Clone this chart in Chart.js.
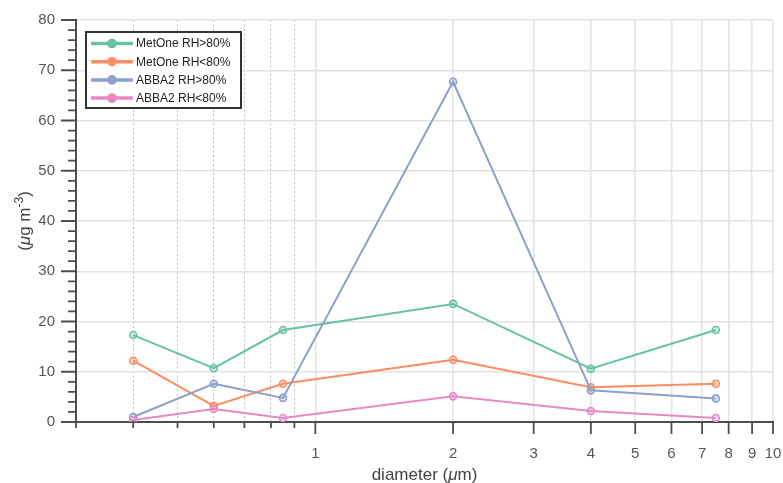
<!DOCTYPE html>
<html>
<head>
<meta charset="utf-8">
<script src="https://cdn.jsdelivr.net/npm/chart.js@4.4.1/dist/chart.umd.min.js"></script>
<style>
  html, body { margin: 0; padding: 0; background: #fff; }
</style>
</head>
<body>
<canvas id="myChart" width="783" height="483"></canvas>
<script>
// bin centres (um) and mass concentrations (ug m-3)
const diameters = [0.4, 0.6, 0.85, 2, 4, 7.5];
const seriesNames = ["MetOne RH>80%", "MetOne RH<80%", "ABBA2 RH>80%", "ABBA2 RH<80%"];
const metoneWet = [17.3, 10.7, 18.3, 23.5, 10.6, 18.3];
const metoneDry = [12.2, 3.2, 7.6, 12.4, 6.9, 7.6];
const abbaWet = [1.0, 7.6, 4.8, 67.7, 6.3, 4.7];
const abbaDry = [0.4, 2.6, 0.8, 5.1, 2.2, 0.8];
const colors = ["#66c2a5", "#fc8d62", "#8da0cb", "#e78ac3"];
const fills = ["rgba(102,194,165,0.3)", "rgba(252,141,98,0.3)", "rgba(141,160,203,0.3)", "rgba(231,138,195,0.3)"];

const xTicks = [0.3, 0.4, 0.5, 0.6, 0.7, 0.8, 0.9, 1, 2, 3, 4, 5, 6, 7, 8, 9, 10];
const yTicks = [0, 10, 20, 30, 40, 50, 60, 70, 80];
const yMinorStep = 2;

const FONT = "'Liberation Sans', Arial, Helvetica, sans-serif";
const AXIS = "#4d4d4d";

const allSeries = [metoneWet, metoneDry, abbaWet, abbaDry];

var datasets = [];
allSeries.forEach((vals, i) => {
  datasets.push({
    label: seriesNames[i],
    data: vals.map((v, j) => ({ x: diameters[j], y: v })),
    borderColor: colors[i],
    backgroundColor: fills[i],
    borderWidth: 2,
    pointRadius: 3.5,
    pointBorderWidth: 1.6,
    pointBackgroundColor: fills[i],
    pointBorderColor: colors[i],
    tension: 0,
    order: allSeries.length - 1 - i,
  });
});

// tick marks, axis titles and the boxed legend
const decorations = {
  id: "decorations",
  afterDraw(chart) {
    const ctx = chart.ctx;
    const a = chart.chartArea;
    const x = chart.scales.x;
    const y = chart.scales.y;
    ctx.save();

    // tick marks
    ctx.strokeStyle = AXIS;
    ctx.lineWidth = 1.8;
    ctx.beginPath();
    xTicks.forEach((v) => {
      const px = x.getPixelForValue(v);
      const len = v >= 1 ? 12 : 6;
      ctx.moveTo(px, a.bottom);
      ctx.lineTo(px, a.bottom + len);
    });
    for (let v = y.min; v <= y.max; v += yMinorStep) {
      const py = y.getPixelForValue(v);
      const len = yTicks.includes(v) ? 15 : 8;
      ctx.moveTo(a.left, py);
      ctx.lineTo(a.left - len, py);
    }
    ctx.stroke();

    // x title
    ctx.fillStyle = "#444";
    ctx.textBaseline = "alphabetic";
    ctx.textAlign = "left";
    const normal = "17px " + FONT;
    const italic = "italic 17px " + FONT;
    const parts = [["diameter (", normal], ["\u03bc", italic], ["m)", normal]];
    let w = 0;
    parts.forEach((p) => { ctx.font = p[1]; w += ctx.measureText(p[0]).width; });
    let cx = (a.left + a.right) / 2 - w / 2;
    parts.forEach((p) => {
      ctx.font = p[1];
      ctx.fillText(p[0], cx, 480);
      cx += ctx.measureText(p[0]).width;
    });

    // y title, rotated, with superscript exponent
    ctx.save();
    ctx.translate(30, (a.top + a.bottom) / 2);
    ctx.rotate(-Math.PI / 2);
    const yparts = [["(", normal, 0], ["\u03bc", italic, 0], ["g m", normal, 0],
                    ["-3", "12px " + FONT, -7], [")", normal, 0]];
    w = 0;
    yparts.forEach((p) => { ctx.font = p[1]; w += ctx.measureText(p[0]).width; });
    cx = -w / 2;
    yparts.forEach((p) => {
      ctx.font = p[1];
      ctx.fillText(p[0], cx, p[2]);
      cx += ctx.measureText(p[0]).width;
    });
    ctx.restore();

    // legend box
    const lx = 86, ly = 32, lw = 155, lh = 76;
    ctx.fillStyle = "#fff";
    ctx.fillRect(lx, ly, lw, lh);
    ctx.strokeStyle = "#333";
    ctx.lineWidth = 2;
    ctx.strokeRect(lx, ly, lw, lh);
    ctx.font = "12px " + FONT;
    ctx.textBaseline = "middle";
    seriesNames.forEach((name, i) => {
      const ry = 43.5 + i * 18.2;
      ctx.strokeStyle = colors[i];
      ctx.lineWidth = 3.5;
      ctx.beginPath();
      ctx.moveTo(91, ry);
      ctx.lineTo(133, ry);
      ctx.stroke();
      ctx.fillStyle = colors[i];
      ctx.beginPath();
      ctx.arc(112, ry, 4.8, 0, Math.PI * 2);
      ctx.fill();
      ctx.fillStyle = "#222";
      ctx.fillText(name, 136, ry + 0.5);
    });

    ctx.restore();
  },
};

const ctx = document.getElementById("myChart");
new Chart(ctx, {
  type: "line",
  data: { datasets: datasets },
  plugins: [decorations],
  options: {
    responsive: false,
    animation: false,
    layout: { padding: { left: 0, top: 20, right: 10, bottom: 0 } },
    plugins: {
      legend: { display: false },
      tooltip: { enabled: false },
    },
    scales: {
      x: {
        type: "logarithmic",
        min: 0.3,
        max: 10,
        afterBuildTicks: (scale) => {
          scale.ticks = xTicks.map((v) => ({ value: v }));
        },
        afterFit: (scale) => {
          scale.height = 61;
          scale.paddingLeft = 0;
          scale.paddingRight = 0;
        },
        ticks: {
          autoSkip: false,
          maxRotation: 0,
          padding: 23,
          color: "#555",
          font: { size: 15, family: FONT },
          callback: (v) => (v >= 1 ? String(v) : ""),
        },
        grid: {
          drawTicks: false,
          lineWidth: (c) => (c.tick && c.tick.value < 1 ? 1 : 1.5),
          color: (c) => {
            if (!c.tick || c.tick.value <= 0.3) return "rgba(0,0,0,0)";
            return c.tick.value < 1 ? "#bdbdbd" : "#e2e2e2";
          },
        },
        border: {
          color: AXIS,
          width: 2,
          dash: (c) => (c.tick && c.tick.value < 1 ? [2, 2.5] : []),
        },
      },
      y: {
        min: 0,
        max: 80,
        afterBuildTicks: (scale) => {
          scale.ticks = yTicks.map((v) => ({ value: v }));
        },
        afterFit: (scale) => {
          scale.width = 76;
          scale.paddingTop = 0;
          scale.paddingBottom = 0;
        },
        ticks: {
          autoSkip: false,
          padding: 21,
          color: "#555",
          font: { size: 15, family: FONT },
        },
        grid: {
          drawTicks: false,
          lineWidth: 1.5,
          color: (c) => (c.tick && c.tick.value === 0 ? "rgba(0,0,0,0)" : "#e2e2e2"),
        },
        border: { color: AXIS, width: 2 },
      },
    },
  },
});
</script>
</body>
</html>
